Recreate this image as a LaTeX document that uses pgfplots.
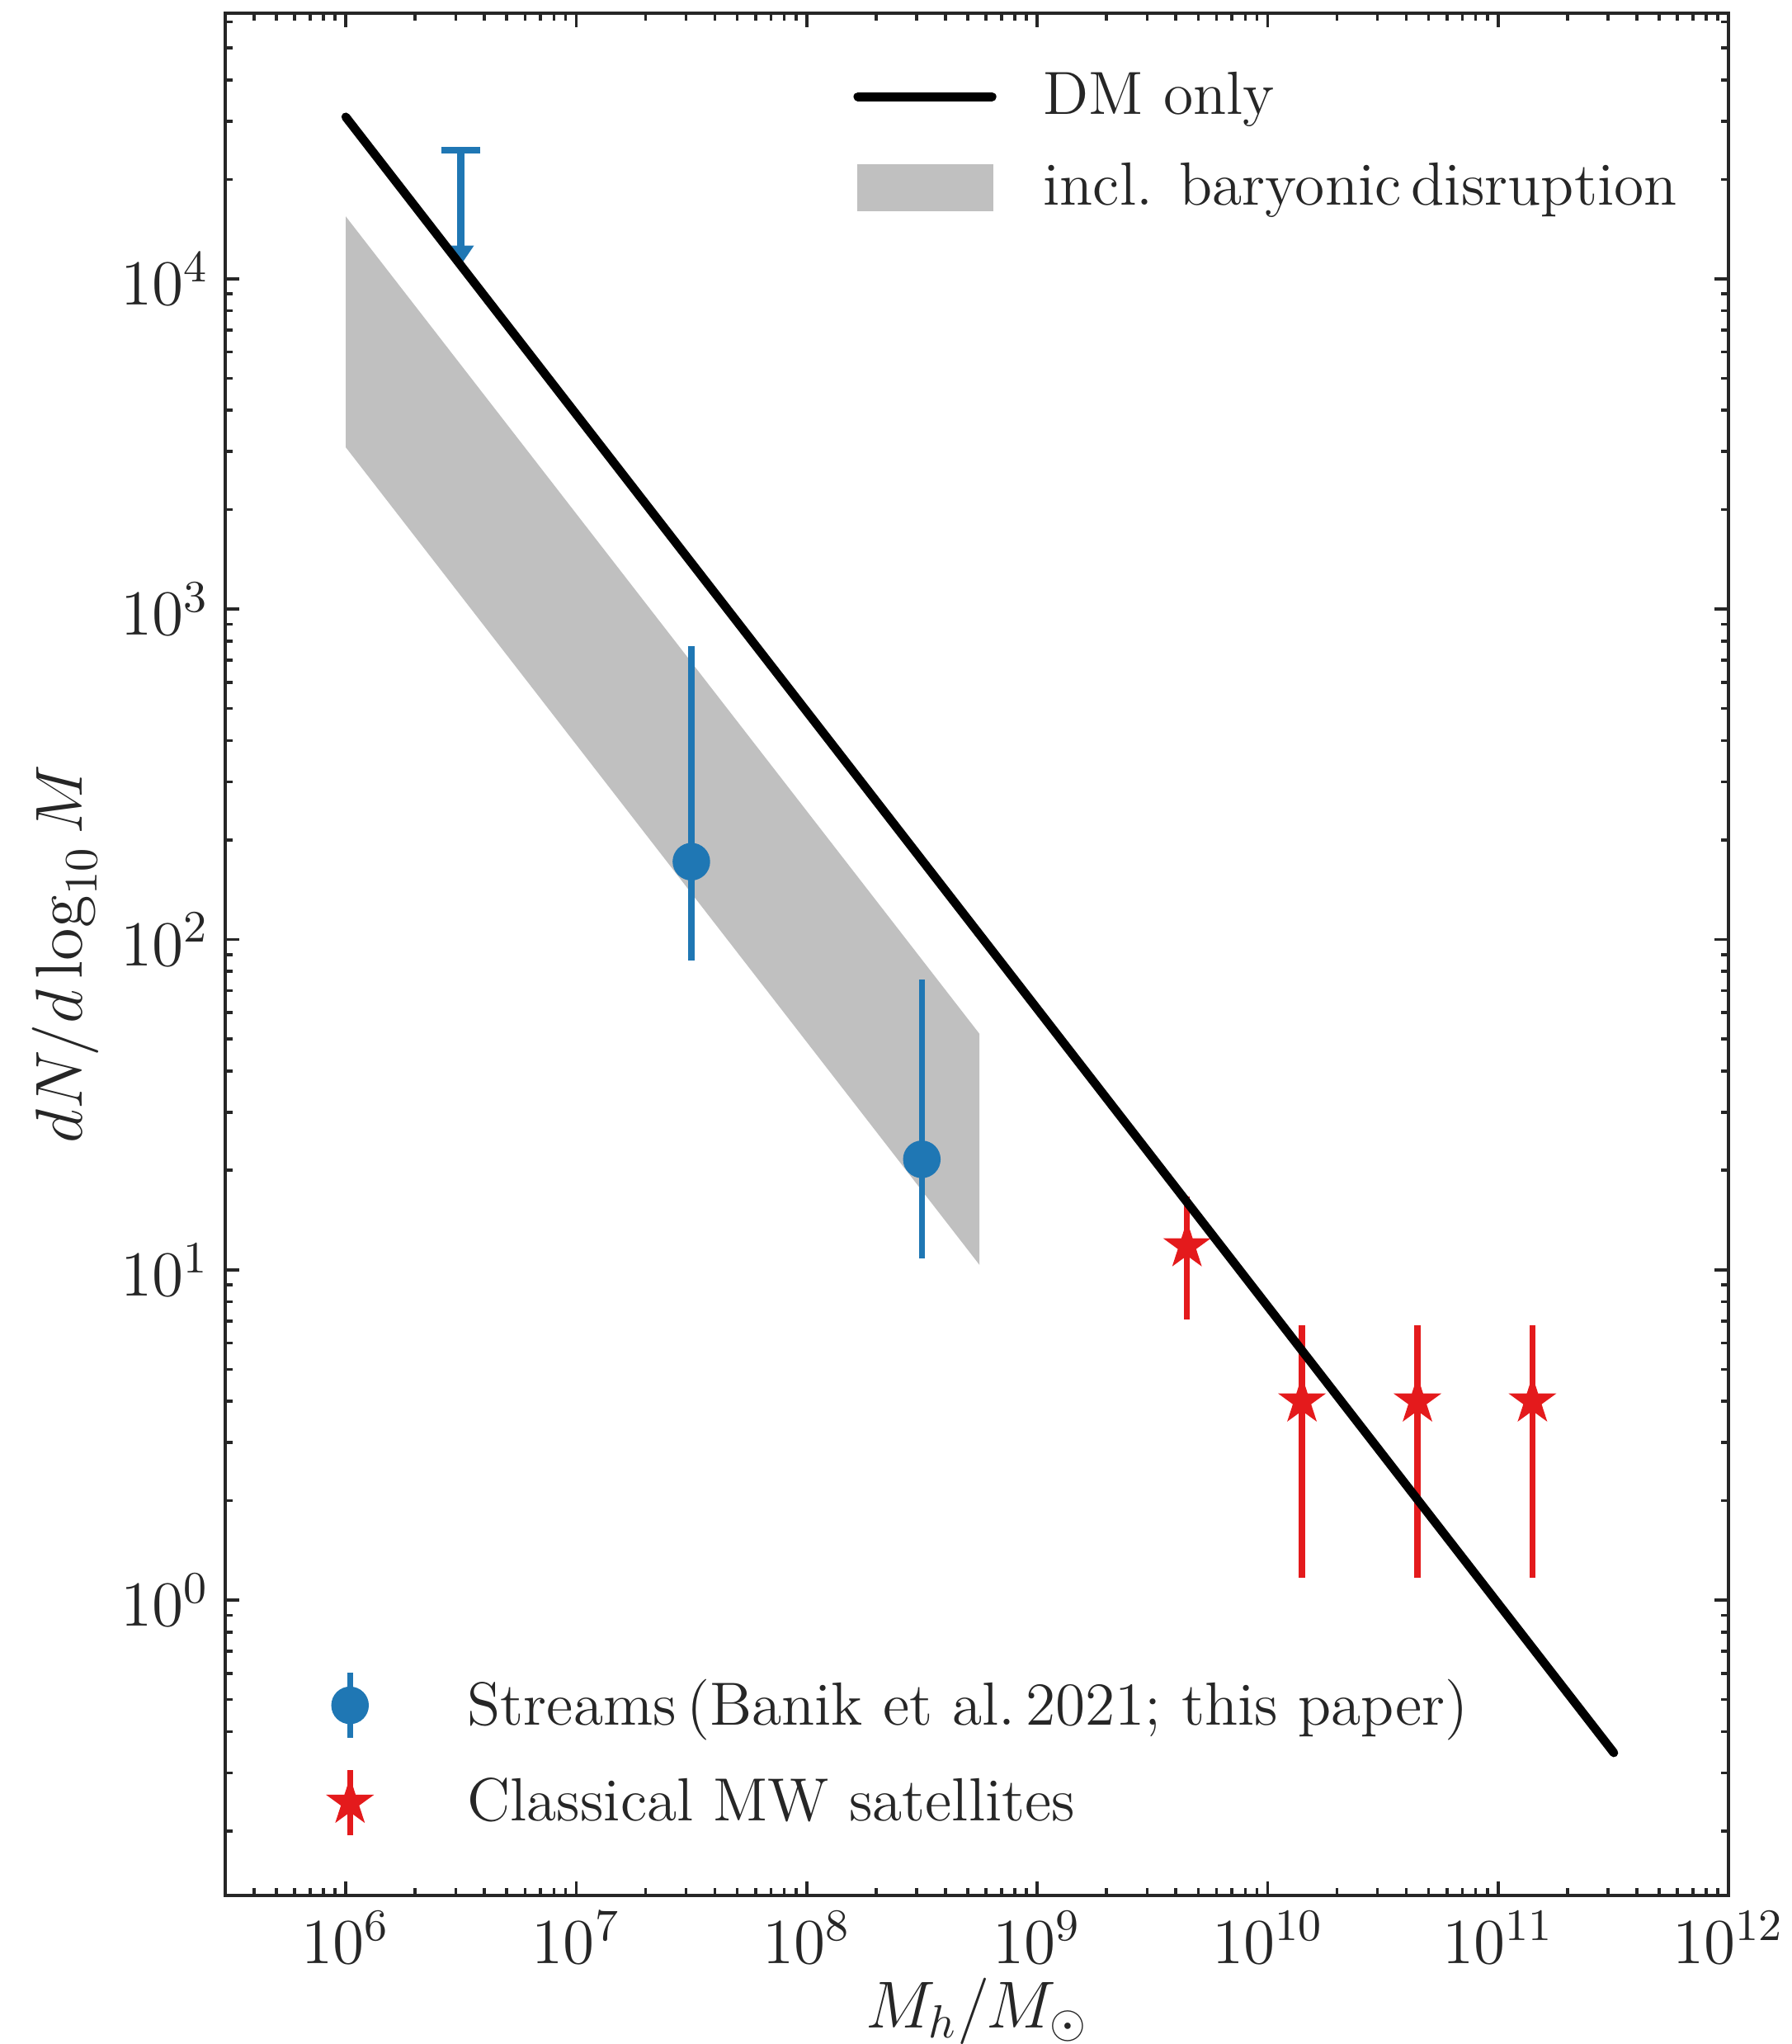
\RequirePackage{fix-cm}
\documentclass[border=0pt]{standalone}
\usepackage{pgfplots}
\pgfplotsset{compat=1.18}
\usetikzlibrary{arrows.meta}
\definecolor{tcol}{HTML}{262626}
\definecolor{mblue}{HTML}{1F77B4}
\definecolor{mred}{HTML}{E41A1C}
\definecolor{bandgray}{HTML}{C0C0C0}
\pgfdeclareplotmark{fstar}{%
  \pgfpathmoveto{\pgfqpointpolar{90}{\pgfplotmarksize}}%
  \pgfpathlineto{\pgfqpointpolar{126}{0.382\pgfplotmarksize}}%
  \pgfpathlineto{\pgfqpointpolar{162}{\pgfplotmarksize}}%
  \pgfpathlineto{\pgfqpointpolar{198}{0.382\pgfplotmarksize}}%
  \pgfpathlineto{\pgfqpointpolar{234}{\pgfplotmarksize}}%
  \pgfpathlineto{\pgfqpointpolar{270}{0.382\pgfplotmarksize}}%
  \pgfpathlineto{\pgfqpointpolar{306}{\pgfplotmarksize}}%
  \pgfpathlineto{\pgfqpointpolar{342}{0.382\pgfplotmarksize}}%
  \pgfpathlineto{\pgfqpointpolar{18}{\pgfplotmarksize}}%
  \pgfpathlineto{\pgfqpointpolar{54}{0.382\pgfplotmarksize}}%
  \pgfpathclose
  \pgfusepathqfill}
\begin{document}
\begin{tikzpicture}
\useasboundingbox (-1.728cm,-1.139cm) rectangle (12.021cm,14.541cm);
\begin{axis}[
  at={(0cm,0cm)}, anchor=south west, scale only axis,
  width=11.534cm, height=14.44cm,
  xmode=log, ymode=log,
  xmin=3.0e5, xmax=1e12, ymin=0.1276, ymax=6.37e4,
  axis line style={tcol, line width=0.65pt},
  every tick/.style={tcol, line width=0.65pt},
  major tick length=1.1mm, minor tick length=0.55mm,
  tick align=inside,
  xtick={1e6,1e7,1e8,1e9,1e10,1e11,1e12},
  ytick={1,10,100,1000,10000},
  minor xtick={4e5,5e5,6e5,7e5,8e5,9e5,
    2e6,3e6,4e6,5e6,6e6,7e6,8e6,9e6,
    2e7,3e7,4e7,5e7,6e7,7e7,8e7,9e7,
    2e8,3e8,4e8,5e8,6e8,7e8,8e8,9e8,
    2e9,3e9,4e9,5e9,6e9,7e9,8e9,9e9,
    2e10,3e10,4e10,5e10,6e10,7e10,8e10,9e10,
    2e11,3e11,4e11,5e11,6e11,7e11,8e11,9e11},
  minor ytick={0.2,0.3,0.4,0.5,0.6,0.7,0.8,0.9,
    2,3,4,5,6,7,8,9,
    20,30,40,50,60,70,80,90,
    200,300,400,500,600,700,800,900,
    2000,3000,4000,5000,6000,7000,8000,9000,
    20000,30000,40000,50000,60000},
  tick label style={font=\fontsize{14}{17}\selectfont, text=tcol},
  xlabel={$M_h/M_\odot$}, ylabel={$dN/d\log_{10}M$},
  label style={font=\fontsize{14.5}{17}\selectfont, text=tcol},
  xlabel style={at={(axis description cs:0.5,-0.0614)}, anchor=center},
  ylabel style={at={(axis description cs:-0.1065,0.5)}, anchor=center},
  legend style={draw=none, fill=none, inner sep=0pt,
    at={(axis description cs:0.0564,0.030)}, anchor=south west,
    font=\fontsize{13.3}{16}\selectfont, text=tcol, row sep=0.20cm, column sep=0.53cm},
  legend cell align=left,
]
\addplot[fill=bandgray, draw=none, forget plot] coordinates {(1e6,1.545e4) (5.62e8,51.8) (5.62e8,10.35) (1e6,3.09e3) (1e6,1.545e4)};
\addplot[mblue, line width=1.5pt, forget plot, -{Triangle[width=0.19cm,length=0.15cm]}] coordinates {(3.16e6,2.45e4) (3.16e6,1.1e4)};
\addplot[mblue, only marks, mark=-, mark size=0.148cm, mark options={line width=1.55pt}, forget plot] coordinates {(3.16e6,2.45e4)};
\addplot[mblue, only marks, mark=*, mark size=3.9pt,
  legend image code/.code={\path[draw=none,fill=none] (0cm,0cm) rectangle (0.6cm,0.01cm); \draw[mblue, line width=1.3pt] (0.3cm,-0.25cm) -- (0.3cm,0.25cm); \fill[mblue] (0.3cm,0cm) circle[radius=3.9pt];},
  error bars/.cd, y dir=both, y explicit, error bar style={line width=1.3pt, mblue}, error mark=none]
  coordinates {(3.16e7,172) += (0,601) -= (0,85.7)
               (3.16e8,21.6) += (0,54.1) -= (0,10.8)};
\addlegendentry{Streams\,(Banik et al.\,2021; this paper)}
\addplot[mred, only marks, mark=fstar, mark size=5.5pt,
  legend image code/.code={\path[draw=none,fill=none] (0cm,0cm) rectangle (0.6cm,0.01cm); \draw[mred, line width=1.3pt] (0.3cm,-0.25cm) -- (0.3cm,0.25cm); \pgfsetfillcolor{mred}\pgfsetplotmarksize{5.5pt}\pgftransformshift{\pgfpoint{0.3cm}{0cm}}\pgfuseplotmark{fstar}},
  error bars/.cd, y dir=both, y explicit, error bar style={line width=1.3pt, mred}, error mark=none]
  coordinates {(4.47e9,11.8) += (0,4.9) -= (0,4.73)
               (1.41e10,4) += (0,2.8) -= (0,2.83)
               (4.47e10,4) += (0,2.8) -= (0,2.83)
               (1.41e11,4) += (0,2.8) -= (0,2.83)};
\addlegendentry{Classical MW satellites}
\end{axis}
\begin{axis}[
  at={(0cm,0cm)}, anchor=south west, scale only axis,
  width=11.534cm, height=14.44cm,
  xmode=log, ymode=log,
  xmin=3.0e5, xmax=1e12, ymin=0.1276, ymax=6.37e4,
  hide axis,
  legend style={draw=none, fill=none, inner sep=0pt,
    at={(axis description cs:0.4173,0.974)}, anchor=north west,
    font=\fontsize{13.3}{16}\selectfont, text=tcol, row sep=0.18cm, column sep=0.29cm},
  legend cell align=left,
]
\addplot[black, line width=1.9pt, line cap=round,
  legend image code/.code={\draw[black, line width=1.9pt, line cap=round] (0cm,0cm) -- (1.03cm,0cm);}]
  coordinates {(1e6,3.09e4) (1e7,3.89e3) (1e8,490) (1e9,61.7) (1e10,7.76) (1e11,0.977) (3.18e11,0.345)};
\addlegendentry{DM only}
\addlegendimage{legend image code/.code={\fill[bandgray] (0cm,-0.175cm) rectangle (1.03cm,0.175cm);}}
\addlegendentry{incl. baryonic\,disruption}
\end{axis}
\end{tikzpicture}
\end{document}
